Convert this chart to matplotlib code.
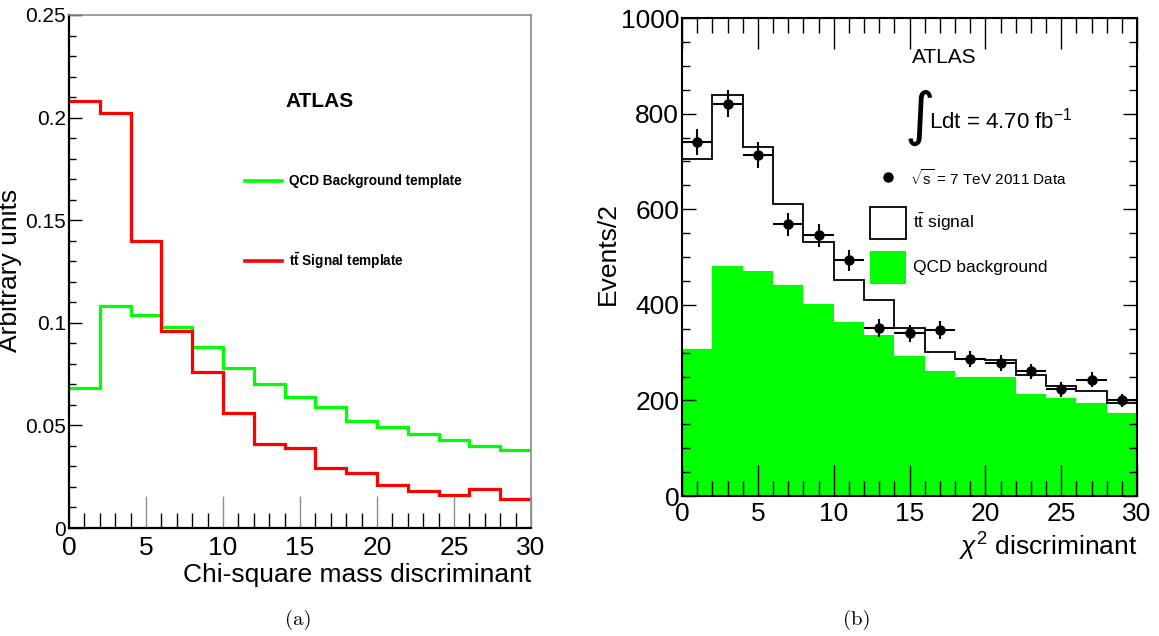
import numpy as np
import matplotlib
matplotlib.use('Agg')
import matplotlib.pyplot as plt
from matplotlib.patches import Rectangle
from matplotlib.lines import Line2D
from matplotlib.ticker import MultipleLocator

# bin edges, chi-square 0..30 in steps of 2
edges = np.arange(0, 32, 2)
centers = edges[:-1] + 1

# (a) normalised templates
qcd_template = [0.068, 0.108, 0.104, 0.098, 0.088, 0.078, 0.070, 0.064,
                0.059, 0.052, 0.049, 0.046, 0.043, 0.040, 0.038]
ttbar_template = [0.208, 0.202, 0.140, 0.096, 0.076, 0.056, 0.041, 0.039,
                  0.029, 0.027, 0.021, 0.018, 0.016, 0.019, 0.014]

# (b) event counts per bin
qcd_bkg = [307, 481, 470, 441, 402, 364, 336, 293, 262, 248, 248, 214, 204, 195, 174]
ttbar_sig = [398, 358, 260, 170, 130, 87, 74, 59, 40, 38, 36, 39, 26, 24, 21]
data = [741, 821, 713, 568, 545, 493, 351, 340, 347, 286, 279, 261, 223, 243, 200]

SANS = ['Liberation Sans', 'DejaVu Sans']
GREEN = '#00ff00'
RED = '#ff0000'
GREY = '#8c8c8c'

plt.rcParams['font.family'] = SANS
plt.rcParams['mathtext.fontset'] = 'custom'
plt.rcParams['mathtext.rm'] = 'Liberation Sans'
plt.rcParams['mathtext.it'] = 'Liberation Sans:italic'
plt.rcParams['mathtext.bf'] = 'Liberation Sans:bold'

fig = plt.figure(figsize=(11.59, 6.36), dpi=100)

# ---------------- (a) ----------------
ax1 = fig.add_axes([69 / 1159, 1 - 528 / 636, 462 / 1159, 513 / 636])
ax1.stairs(qcd_template, edges, baseline=None, color=GREEN, lw=2.3)
ax1.stairs(ttbar_template, edges, baseline=None, color=RED, lw=2.3)
ax1.set_xlim(0, 30)
ax1.set_ylim(0, 0.25)

ax1.xaxis.set_major_locator(MultipleLocator(5))
ax1.xaxis.set_minor_locator(MultipleLocator(1))
ax1.yaxis.set_major_locator(MultipleLocator(0.05))
ax1.yaxis.set_minor_locator(MultipleLocator(0.01))
ax1.tick_params(axis='x', which='major', direction='in', length=23, width=1,
                color=GREY, labelsize=19, pad=6, top=False)
ax1.tick_params(axis='x', which='minor', direction='in', length=11, width=1,
                color='black', top=False)
ax1.tick_params(axis='y', which='major', direction='in', length=9, width=1,
                color='black', labelsize=15, pad=2, right=False)
ax1.tick_params(axis='y', which='minor', direction='in', length=5, width=1,
                color='black', right=False)
ax1.set_yticks([0, 0.05, 0.1, 0.15, 0.2, 0.25])
ax1.set_yticklabels(['0', '0.05', '0.1', '0.15', '0.2', '0.25'])
for side in ('top', 'right'):
    ax1.spines[side].set_color(GREY)
    ax1.spines[side].set_linewidth(1.2)
for side in ('left', 'bottom'):
    ax1.spines[side].set_linewidth(1.6)

ax1.set_xlabel('Chi-square mass discriminant', fontsize=19, loc='right', labelpad=2)
ax1.set_ylabel('Arbitrary units', fontsize=19)
ax1.yaxis.set_label_coords(-0.102, 0.503)

ax1.text(0.543, 0.832, 'ATLAS', transform=ax1.transAxes, fontsize=15,
         fontweight='bold', ha='center', va='center')
ax1.add_line(Line2D([0.382, 0.462], [0.676, 0.676], transform=ax1.transAxes,
                    color=GREEN, lw=2.6))
ax1.text(0.477, 0.676, 'QCD Background template', transform=ax1.transAxes,
         fontsize=9.8, fontweight='bold', va='center')
ax1.add_line(Line2D([0.382, 0.462], [0.520, 0.520], transform=ax1.transAxes,
                    color=RED, lw=2.6))
ax1.text(0.477, 0.520, r'$\mathbf{t\bar{t}}$ Signal template', transform=ax1.transAxes,
         fontsize=9.8, fontweight='bold', va='center')

# ---------------- (b) ----------------
ax2 = fig.add_axes([682 / 1159, 1 - 496 / 636, 455 / 1159, 478 / 636])
bkg = np.array(qcd_bkg, dtype=float)
total = bkg + np.array(ttbar_sig, dtype=float)
ax2.stairs(bkg, edges, fill=True, color=GREEN, lw=0)
ax2.stairs(total, edges, baseline=None, color='black', lw=1.3)
dat = np.array(data, dtype=float)
ax2.errorbar(centers, dat, xerr=1, yerr=np.sqrt(dat), fmt='o', color='black',
             ms=6.5, elinewidth=1.5, capsize=0)
ax2.set_xlim(0, 30)
ax2.set_ylim(0, 1000)

ax2.xaxis.set_major_locator(MultipleLocator(5))
ax2.xaxis.set_minor_locator(MultipleLocator(1))
ax2.yaxis.set_major_locator(MultipleLocator(200))
ax2.yaxis.set_minor_locator(MultipleLocator(50))
ax2.tick_params(axis='x', which='major', direction='in', length=22, width=1,
                labelsize=19, pad=4, top=True)
ax2.tick_params(axis='x', which='minor', direction='in', length=11, width=1, top=True)
ax2.tick_params(axis='y', which='major', direction='in', length=10, width=1,
                labelsize=19, pad=2, right=True)
ax2.tick_params(axis='y', which='minor', direction='in', length=5.5, width=1, right=True)
for side in ax2.spines:
    ax2.spines[side].set_linewidth(1.5)

ax2.set_xlabel(r'$\chi^2$ discriminant', fontsize=19, loc='right', labelpad=4)
ax2.set_ylabel('Events/2', fontsize=19)
ax2.yaxis.set_label_coords(-0.136, 0.508)

ax2.text(0.506, 0.918, 'ATLAS', transform=ax2.transAxes, fontsize=15,
         ha='left', va='center')
ax2.text(0.49, 0.792, '\u222b', transform=ax2.transAxes, fontsize=42,
         family='DejaVu Sans', ha='left', va='center')
ax2.text(0.543, 0.785, 'Ldt = 4.70 fb$^{-1}$', transform=ax2.transAxes,
         fontsize=16, ha='left', va='center')
ax2.plot([0.453], [0.667], 'o', color='black', ms=6.5, transform=ax2.transAxes,
         clip_on=False)
ax2.text(0.5, 0.665, r'$\sqrt{\mathrm{s}}$ = 7 TeV 2011 Data', transform=ax2.transAxes,
         fontsize=11, ha='left', va='center')
ax2.add_patch(Rectangle((0.414, 0.538), 0.079, 0.067, transform=ax2.transAxes,
                        facecolor='white', edgecolor='black', lw=1.3))
ax2.text(0.508, 0.572, r'$\mathrm{t\bar{t}}$ signal', transform=ax2.transAxes,
         fontsize=12.5, ha='left', va='center')
ax2.add_patch(Rectangle((0.414, 0.443), 0.079, 0.069, transform=ax2.transAxes,
                        facecolor=GREEN, edgecolor='none'))
ax2.text(0.508, 0.478, 'QCD background', transform=ax2.transAxes,
         fontsize=12.5, ha='left', va='center')

# captions
fig.text(298 / 1159, 1 - 620 / 636, '(a)', family='cmr10', fontsize=15,
         ha='center', va='center')
fig.text(857 / 1159, 1 - 620 / 636, '(b)', family='cmr10', fontsize=15,
         ha='center', va='center')

fig.savefig('out.png', dpi=100)
